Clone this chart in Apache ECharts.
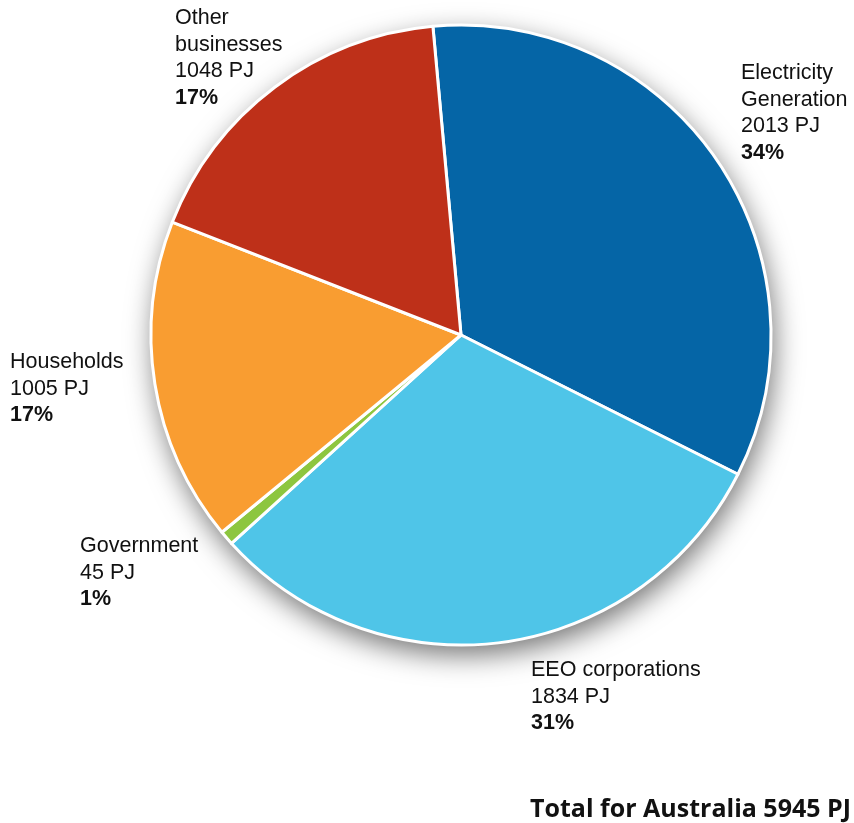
<!DOCTYPE html>
<html>
<head>
<meta charset="utf-8">
<script src="https://cdn.jsdelivr.net/npm/echarts@6/dist/echarts.min.js"></script>
<style>
  html, body { margin: 0; padding: 0; background: #fff; }
  #chart { width: 854px; height: 823px; }
</style>
</head>
<body>
<div id="chart"></div>
<script>
// Energy use by sector, petajoules
const sectors = ['Electricity\nGeneration', 'EEO corporations', 'Government', 'Households', 'Other\nbusinesses'];
const energyPJ = [2013, 1834, 45, 1005, 1048];
const sectorColors = ['#0565a6', '#4fc5e8', '#8dc63f', '#f99d31', '#be3019'];

// Where each sector's caption block starts (left edge, top edge)
const labelSpots = [[741, 60], [531, 657], [80, 533], [10, 349], [175, 5]];

const totalPJ = energyPJ.reduce((a, b) => a + b, 0);

const chart = echarts.init(document.getElementById('chart'));

const pieCenter = [461, 335];
const pieRadius = 310;
const labelFont = '"Liberation Sans", Arial, sans-serif';

chart.setOption({
  animation: false,
  title: {
    text: 'Total for Australia ' + totalPJ + ' PJ',
    right: -2,
    top: 792,
    textStyle: {
      fontFamily: '"Open Sans", Lato, sans-serif',
      fontWeight: 'bold',
      fontSize: 25,
      color: '#111'
    }
  },
  series: [
    {
      // soft drop shadow under the whole disc
      type: 'pie',
      silent: true,
      z: 1,
      center: pieCenter,
      radius: pieRadius,
      label: { show: false },
      labelLine: { show: false },
      itemStyle: {
        color: '#ffffff',
        shadowBlur: 28,
        shadowOffsetX: 3,
        shadowOffsetY: 10,
        shadowColor: 'rgba(0,0,0,0.55)'
      },
      data: [{ value: totalPJ, name: 'total' }]
    },
    {
      type: 'pie',
      z: 2,
      center: pieCenter,
      radius: pieRadius,
      startAngle: 95.2,
      clockwise: true,
      percentPrecision: 0,
      avoidLabelOverlap: false,
      itemStyle: {
        borderColor: '#ffffff',
        borderWidth: 3
      },
      label: {
        show: true,
        position: 'outside',
        formatter: '{b}\n{c} PJ\n{p|{d}%}',
        fontFamily: labelFont,
        fontSize: 21.5,
        lineHeight: 26.5,
        color: '#111',
        align: 'left',
        rich: {
          p: {
            fontFamily: labelFont,
            fontSize: 21.5,
            lineHeight: 26.5,
            fontWeight: 'bold',
            color: '#111'
          }
        }
      },
      labelLine: { show: false },
      labelLayout: function (params) {
        const spot = labelSpots[params.dataIndex];
        return { x: spot[0], y: spot[1], align: 'left', verticalAlign: 'top' };
      },
      data: sectors.map((name, i) => ({
        name: name,
        value: energyPJ[i],
        itemStyle: { color: sectorColors[i] }
      }))
    }
  ]
});
</script>
</body>
</html>
